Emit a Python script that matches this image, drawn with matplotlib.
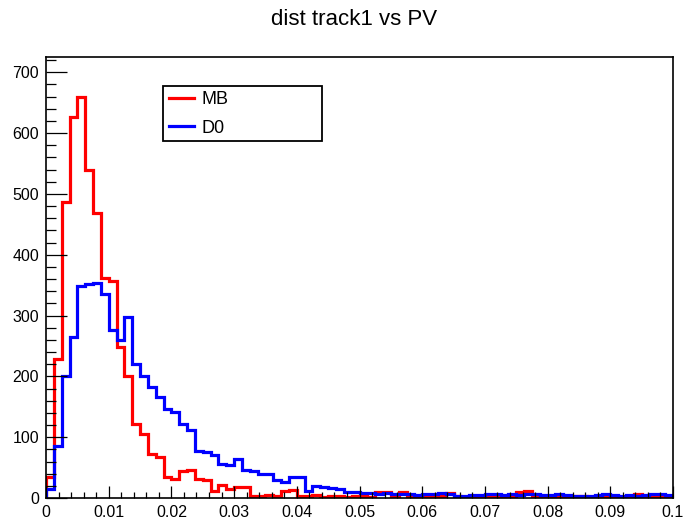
import numpy as np
import matplotlib.pyplot as plt
from matplotlib.patches import Rectangle
from matplotlib.ticker import MultipleLocator

plt.rcParams['font.family'] = ['Liberation Sans', 'DejaVu Sans']

# 80 bins from 0 to 0.1
xmin = 0.0
xmax = 0.1
nbins = 80

mb = [35, 229, 487, 626, 659, 539, 468, 361, 357, 248,
      200, 122, 106, 73, 68, 34, 32, 45, 46, 31,
      30, 12, 22, 15, 18, 18, 4, 4, 5, 3,
      12, 13, 4, 3, 5, 2, 4, 3, 2, 4,
      3, 2, 10, 10, 3, 10, 2, 3, 4, 2,
      3, 9, 3, 2, 4, 2, 3, 2, 3, 4,
      10, 11, 3, 2, 4, 3, 2, 3, 4, 2,
      3, 2, 3, 2, 3, 7, 2, 3, 2, 3]
d0 = [15, 86, 201, 265, 348, 352, 353, 336, 276, 259,
      297, 220, 201, 183, 166, 147, 141, 122, 111, 78,
      76, 70, 56, 55, 64, 46, 45, 40, 40, 29,
      26, 35, 34, 12, 20, 18, 17, 15, 10, 10,
      8, 9, 7, 8, 6, 6, 7, 5, 6, 7,
      8, 6, 4, 4, 5, 5, 6, 6, 5, 6,
      5, 6, 6, 5, 5, 6, 5, 4, 3, 4,
      5, 6, 5, 4, 5, 4, 5, 6, 6, 5]

xticks = [0, 0.01, 0.02, 0.03, 0.04, 0.05, 0.06, 0.07, 0.08, 0.09, 0.1]
xlabels = ['0', '0.01', '0.02', '0.03', '0.04', '0.05', '0.06', '0.07', '0.08', '0.09', '0.1']

edges = np.linspace(xmin, xmax, nbins + 1)

fig = plt.figure(figsize=(6.84, 5.19), dpi=100)
ax = fig.add_axes([46/684, 1 - 498/519, 627/684, 441/519])

h1 = ax.stairs(mb, edges, color='red', lw=2.3, baseline=0, label='MB')
h2 = ax.stairs(d0, edges, color='blue', lw=2.3, baseline=0, label='D0')

ax.set_xlim(xmin, xmax)
ax.set_ylim(0, 725)
ax.set_xticks(xticks)
ax.set_xticklabels(xlabels)
ax.xaxis.set_minor_locator(MultipleLocator(0.002))
ax.yaxis.set_major_locator(MultipleLocator(100))
ax.yaxis.set_minor_locator(MultipleLocator(20))
ax.tick_params(which='both', direction='in', width=0.9, labelsize=11.5, pad=5)
ax.tick_params(axis='y', which='major', length=15)
ax.tick_params(axis='y', which='minor', length=7)
ax.tick_params(axis='x', which='major', length=9)
ax.tick_params(axis='x', which='minor', length=4.5)
for s in ax.spines.values():
    s.set_linewidth(1.2)

fig.text(0.517, 0.962, 'dist track1 vs PV', ha='center', va='center', fontsize=16)

# legend box like ROOT's TLegend
fig.add_artist(Rectangle((163/684, 1 - 141/519), 159/684, 55/519,
                         transform=fig.transFigure, fill=False, ec='black', lw=1.3))
ax.legend(handles=[h1, h2], loc='upper left', bbox_to_anchor=(169/684, 1 - 91.5/519),
          bbox_transform=fig.transFigure, frameon=False, fontsize=13,
          handlelength=1.4, handletextpad=0.4, labelspacing=0.62,
          borderpad=0, borderaxespad=0)

fig.savefig('out.png', dpi=100)
